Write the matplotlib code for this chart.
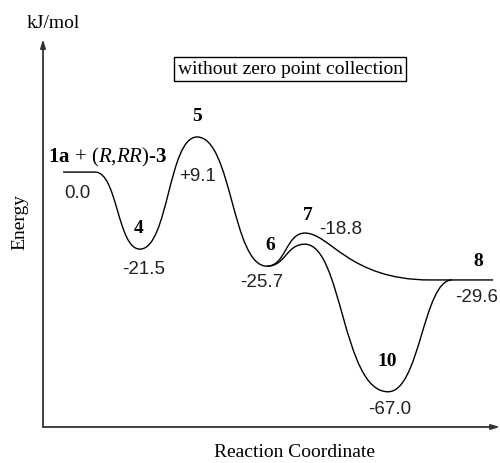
import numpy as np
import matplotlib.pyplot as plt
from matplotlib.path import Path
from matplotlib.patches import PathPatch

plt.rcParams['mathtext.fontset'] = 'custom'
plt.rcParams['mathtext.rm'] = 'Liberation Serif'
plt.rcParams['mathtext.it'] = 'Liberation Serif:italic'
plt.rcParams['mathtext.bf'] = 'Liberation Serif:bold'

# stationary points: reaction coordinate (arb.) and drawn level (kJ/mol, schematic)
names = [r'$\mathbf{1a}$ + ($\mathit{R}$,$\mathit{RR}$)-$\mathbf{3}$', '4', '5', '6', '7', '8', '10']
values = ['0.0', '-21.5', '+9.1', '-25.7', '-18.8', '-29.6', '-67.0']
label_x = [0.79, 2.12, 3.37, 4.90, 5.73, 9.52, 7.55]
label_y = [0.0, -23.5, 10.7, -28.7, -18.6, -32.9, -67.0]

# upper path: 1a+3 -> 4 -> 5 -> 6 -> 7 -> 8
upper_x = [0.44, 1.14, 2.12, 3.37, 4.90, 5.73, 8.47, 9.85]
upper_y = [0.0, 0.0, -23.5, 10.7, -28.7, -18.6, -32.9, -32.9]
upper_h = [(0.5, 0.5), (0.5, 0.5), (0.5, 0.5), (0.5, 0.5), (0.5, 0.5), (0.2, 0.65), (0.5, 0.5)]

# lower path: 6 -> 7 -> 10 -> 8
lower_x = [4.90, 5.73, 7.55, 8.95]
lower_y = [-28.7, -22.0, -67.0, -32.9]
lower_h = [(0.5, 0.5), (0.45, 0.55), (0.5, 0.45)]

# label offsets in pixels (name, value)
name_off = [(-31, 16), (-1, 22), (0, 21), (3, 22), (3, 19), (0, 19), (-1, 31)]
val_off = [(-2, -20), (4, -19), (1, -39), (-5, -15), (36, 5), (-1, -17), (2, -17)]


def bezier_path(xs, ys, handles):
    verts = [(xs[0], ys[0])]
    codes = [Path.MOVETO]
    for i, (a, b) in enumerate(handles):
        x0, y0, x1, y1 = xs[i], ys[i], xs[i + 1], ys[i + 1]
        dx = x1 - x0
        verts += [(x0 + a * dx, y0), (x1 - b * dx, y1), (x1, y1)]
        codes += [Path.CURVE4] * 3
    return Path(verts, codes)


fig = plt.figure(figsize=(5.0, 4.64), dpi=100)
ax = fig.add_axes([0.086, 0.0776, 0.914, 0.836])
ax.set_xlim(0, 10)
ax.set_ylim(-77.74, 40.55)
ax.axis('off')

for xs, ys, hs in [(upper_x, upper_y, upper_h), (lower_x, lower_y, lower_h)]:
    ax.add_patch(PathPatch(bezier_path(xs, ys, hs), fill=False, lw=1.0,
                           edgecolor='black', clip_on=False))

serif = 'Liberation Serif'
sans = 'Liberation Sans'
px = 0.72
for i in range(len(names)):
    ha = 'left' if i == 0 else 'center'
    ax.annotate(names[i], (label_x[i], label_y[i]), xytext=(name_off[i][0] * px, name_off[i][1] * px),
                textcoords='offset points', ha=ha, va='center', fontsize=15 if i == 0 else 14,
                family=serif, fontweight='normal' if i == 0 else 'bold')
    ax.annotate(values[i], (label_x[i], label_y[i]), xytext=(val_off[i][0] * px, val_off[i][1] * px),
                textcoords='offset points', ha='center', va='center', fontsize=13.5,
                family=sans, color='#222222')

# axes arrows
arrow = dict(arrowstyle='-|>,head_length=0.5,head_width=0.15', color='#333333', lw=1.3,
             shrinkA=0, shrinkB=0)
ax.annotate('', xy=(0, 1), xytext=(0, 0), xycoords='axes fraction', arrowprops=arrow)
ax.annotate('', xy=(1, 0), xytext=(0, 0), xycoords='axes fraction', arrowprops=arrow)

fig.text(53 / 500, 1 - 23 / 464, 'kJ/mol', ha='center', va='center', fontsize=14, family=serif)
fig.text(20 / 500, 1 - 222 / 464, 'Energy', ha='center', va='center', rotation=90,
         fontsize=14, family=serif)
fig.text(295 / 500, 1 - 453 / 464, 'Reaction Coordinate', ha='center', va='center',
         fontsize=14, family=serif)
fig.text(290 / 500, 1 - 70 / 464, 'without zero point collection', ha='center', va='center',
         fontsize=14, family=serif,
         bbox=dict(boxstyle='square,pad=0.2', facecolor='white', edgecolor='black', lw=1.0))

fig.savefig('out.png', dpi=100)
